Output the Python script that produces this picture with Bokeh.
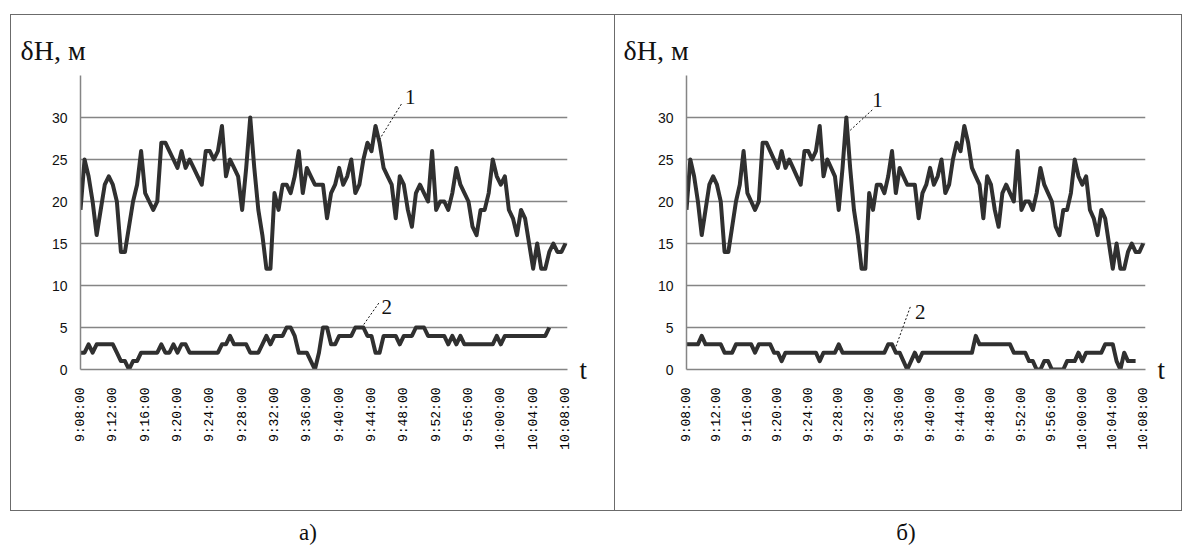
import math

from bokeh.embed import file_html
from bokeh.layouts import column, row
from bokeh.models import Arrow, Div, FixedTicker, Label, LinearAxis, Range1d, Spacer
from bokeh.plotting import figure
from bokeh.resources import INLINE

# time axis: minutes after 9:08:00, one sample every 30 s
tick_minutes = [0, 4, 8, 12, 16, 20, 24, 28, 32, 36, 40, 44, 48, 52, 56, 60]
tick_labels = ["9:08:00", "9:12:00", "9:16:00", "9:20:00", "9:24:00", "9:28:00",
               "9:32:00", "9:36:00", "9:40:00", "9:44:00", "9:48:00", "9:52:00",
               "9:56:00", "10:00:00", "10:04:00", "10:08:00"]
sample_step_min = 0.5

# curve 1 (same in both panels), metres
dh_curve1 = [19, 25, 23, 20, 16, 19, 22, 23, 22, 20, 14, 14, 17, 20, 22, 26, 21, 20, 19, 20,
             27, 27, 26, 25, 24, 26, 24, 25, 24, 23, 22, 26, 26, 25, 26, 29, 23, 25, 24, 23,
             19, 24, 30, 24, 19, 16, 12, 12, 21, 19, 22, 22, 21, 23, 26, 21, 24, 23, 22, 22,
             22, 18, 21, 22, 24, 22, 23, 25, 21, 22, 25, 27, 26, 29, 27, 24, 23, 22, 18, 23,
             22, 19, 17, 21, 22, 21, 20, 26, 19, 20, 20, 19, 21, 24, 22, 21, 20, 17, 16, 19,
             19, 21, 25, 23, 22, 23, 19, 18, 16, 19, 18, 15, 12, 15, 12, 12, 14, 15, 14, 14,
             15]

# curve 2, panel a)
dh_curve2_a = [2, 2, 3, 2, 3, 3, 3, 3, 3, 2, 1, 1, 0,
               1, 1, 2, 2, 2, 2, 2, 3, 2, 2, 3, 2, 3, 3, 2,
               2, 2, 2, 2, 2, 2, 2,
               3, 3, 4, 3, 3, 3, 3, 2, 2, 2, 3, 4, 3, 4, 4, 4, 5, 5, 4, 2, 2, 2,
               1, 0, 2,
               5, 5, 3, 3, 4, 4, 4, 4, 5, 5, 5, 4, 4, 2, 2, 4, 4, 4, 4, 3, 4, 4, 4,
               5, 5, 5, 4, 4, 4, 4, 4, 3, 4, 3, 4, 3,
               3, 3, 3, 3, 3, 3, 3,
               4, 3, 4,
               4, 4, 4, 4, 4, 4, 4, 4, 4, 4,
               5]

# curve 2, panel б)
dh_curve2_b = [3, 3, 3, 3, 4, 3, 3, 3, 3, 3, 2, 2, 2,
               3, 3, 3, 3, 3, 2, 3, 3, 3, 3, 2, 2, 1, 2, 2, 2, 2, 2, 2, 2, 2, 2, 1,
               2, 2, 2, 2, 3, 2, 2, 2, 2, 2, 2, 2, 2, 2, 2, 2, 2, 3, 3, 2, 2, 1,
               0,
               1, 2, 1, 2, 2, 2, 2, 2, 2, 2, 2, 2, 2, 2, 2, 2, 2, 4, 3, 3, 3, 3, 3,
               3,
               3, 3, 3, 2, 2, 2, 2, 1, 1, 0, 0, 1, 1, 0, 0, 0, 0, 1, 1, 1, 2, 1,
               2,
               2, 2, 2, 2, 3, 3, 3, 1, 0, 2, 1, 1, 1]

y_grid_values = [0, 5, 10, 15, 20, 25, 30, 35]
y_tick_values = [0, 5, 10, 15, 20, 25, 30]

LINE = "#303030"
GRID = "#858585"
BORDER = "#6b6b6b"
INK = "#111111"
SERIF = "Liberation Serif"


def minutes(n):
    return [i * sample_step_min for i in range(n)]


def panel(curve2, width, border_left, border_right, x_end, title_offset,
          lead1, lead2, styles=None):
    p = figure(width=width, height=495, output_backend="svg", toolbar_location=None,
               x_range=Range1d(0, x_end), y_range=Range1d(0, 35),
               min_border_left=border_left, min_border_right=border_right,
               min_border_top=60, min_border_bottom=141,
               background_fill_color="white", border_fill_color="white",
               title="δH, м", styles=styles or {})
    p.outline_line_color = None
    p.title.text_font = SERIF
    p.title.text_font_style = "normal"
    p.title.text_font_size = "28px"
    p.title.text_line_height = 0.8
    p.title.text_color = INK
    p.title.align = "left"
    p.title.offset = title_offset
    p.title.standoff = 20

    p.xgrid.visible = False
    p.ygrid.ticker = FixedTicker(ticks=y_grid_values)
    p.ygrid.grid_line_color = GRID
    p.ygrid.grid_line_width = 1.5

    p.yaxis.ticker = FixedTicker(ticks=y_tick_values)
    p.yaxis.axis_line_color = GRID
    p.yaxis.axis_line_width = 1.5
    p.yaxis.major_tick_line_color = None
    p.yaxis.minor_tick_line_color = None
    p.yaxis.major_label_standoff = 7
    p.yaxis.major_label_text_font = "Liberation Sans"
    p.yaxis.major_label_text_font_size = "14px"
    p.yaxis.major_label_text_color = INK

    p.xaxis.ticker = FixedTicker(ticks=tick_minutes)
    p.xaxis.major_label_overrides = {m: s for m, s in zip(tick_minutes, tick_labels)}
    p.xaxis.major_label_orientation = math.pi / 2
    p.xaxis.axis_line_color = GRID
    p.xaxis.axis_line_width = 1.5
    p.xaxis.major_tick_line_color = None
    p.xaxis.minor_tick_line_color = None
    p.xaxis.major_label_standoff = 12
    p.xaxis.major_label_text_font = "Liberation Mono"
    p.xaxis.major_label_text_font_size = "13px"
    p.xaxis.major_label_text_color = "#000000"

    # "t" marker at the right end of the time axis
    t_axis = LinearAxis(ticker=FixedTicker(ticks=[0]), major_label_overrides={0: "t"})
    t_axis.axis_line_color = None
    t_axis.major_tick_line_color = None
    t_axis.minor_tick_line_color = None
    t_axis.major_label_standoff = 6
    t_axis.major_label_text_font = SERIF
    t_axis.major_label_text_font_size = "27px"
    t_axis.major_label_text_color = INK
    p.add_layout(t_axis, "right")

    p.line(minutes(len(dh_curve1)), dh_curve1, line_color=LINE, line_width=4,
           line_join="round")
    p.line(minutes(len(curve2)), curve2, line_color=LINE, line_width=4,
           line_join="round")

    for (num, tx, ty, x0, y0, x1, y1) in (lead1, lead2):
        p.add_layout(Arrow(end=None, x_start=x0, y_start=y0, x_end=x1, y_end=y1,
                           line_color=INK, line_width=1, line_dash="2 2"))
        p.add_layout(Label(x=tx, y=ty, text=num, text_font=SERIF,
                           text_font_size="21px", text_color=INK,
                           text_align="center", text_baseline="middle"))
    return p


pa = panel(dh_curve2_a, 603, 69, 47, 60.25, -60,
           ("1", 40.8, 32.4, 39.7, 31.6, 37.0, 27.4),
           ("2", 37.9, 7.45, 36.9, 7.9, 35.0, 5.3))
pb = panel(dh_curve2_b, 567, 71, 37, 60.3, -63,
           ("1", 25.1, 32.1, 24.4, 30.9, 21.3, 28.3),
           ("2", 30.7, 6.9, 29.4, 7.45, 27.5, 2.7),
           styles={"border-left": f"1px solid {BORDER}"})

framed = row(pa, pb, styles={"border": f"1px solid {BORDER}"})

cap_style = {"font-family": SERIF, "font-size": "23px", "text-align": "center",
             "color": INK}
cap_a = Div(text="а)", width=586, height=30, styles=cap_style)
cap_b = Div(text="б)", width=590, height=30, styles=cap_style)

page = column(
    Spacer(height=14),
    row(Spacer(width=10), framed),
    Spacer(height=1),
    row(Spacer(width=10), cap_a, cap_b),
)

open("out.html", "w").write(file_html(page, INLINE))
